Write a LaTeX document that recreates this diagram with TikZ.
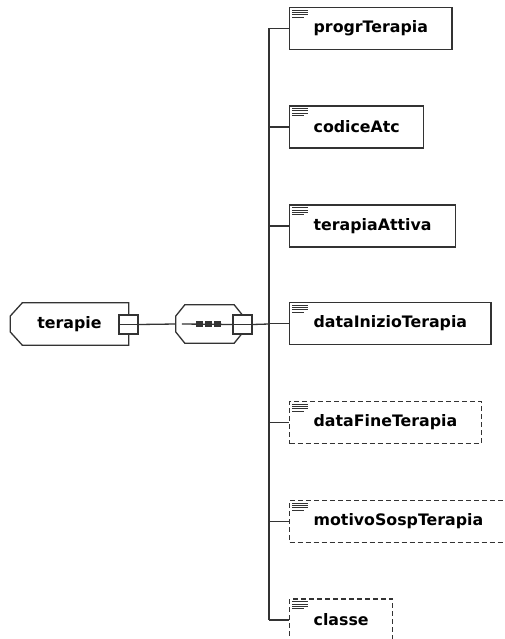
\documentclass[tikz,border=0pt]{standalone}
\usepackage{fontspec}
\setmainfont{DejaVu Sans}
\usepackage{xcolor}
\definecolor{bordo}{HTML}{333333}
\tikzset{
	linea/.style={draw=bordo, line width=1.3pt},
	elemento/.style={linea, fill=white, anchor=west, minimum height=42pt, inner xsep=24pt, font=\fontsize{15.8}{18}\selectfont\bfseries},
	opzionale/.style={elemento, dash pattern=on 5pt off 3pt},
	meno/.style={linea, fill=white, minimum size=19pt, inner sep=0pt}
}

\begin{document}
\begin{tikzpicture}[x=1pt,y=-1pt]
		\useasboundingbox (0,0) rectangle (504,639);
		\begin{scope}
			%elemento radice
			\node[minimum width=118pt, minimum height=42pt, inner sep=0pt, font=\fontsize{15.8}{18}\selectfont\bfseries] (terapie) at (69.5,324) {terapie};
			\draw[linea] ([xshift=12pt]terapie.north west) -- (terapie.north east) -- (terapie.south east) -- ([xshift=12pt]terapie.south west) -- ([yshift=-8pt]terapie.west) -- ([yshift=8pt]terapie.west) -- cycle;
			\node[meno] (terapiemeno) at (128.5,324.5) {};
			\draw[linea] ([xshift=2pt]terapiemeno.west) -- ([xshift=-2pt]terapiemeno.east);
			%sequenza
			\node[minimum width=67pt, minimum height=38pt, inner sep=0pt] (seq) at (209.5,324) {};
			\draw[linea, fill=white] ([xshift=9pt]seq.north west) -- ([xshift=-9pt]seq.north east) -- ([yshift=8pt]seq.east) -- ([yshift=-8pt]seq.east) -- ([xshift=-9pt]seq.south east) -- ([xshift=9pt]seq.south west) -- ([yshift=-8pt]seq.west) -- ([yshift=8pt]seq.west) -- cycle;
			\node[meno] (seqmeno) at (242.5,324.5) {};
			\draw[linea] ([xshift=2pt]seqmeno.west) -- ([xshift=-2pt]seqmeno.east);
			\coordinate (seqpunti) at (208.5,324);
			\draw[linea] ([xshift=6pt]seq.west) -- (seqmeno.west);
			\foreach \dx in {-9,0,9}
				\fill[bordo] ([xshift=\dx pt]seqpunti) +(-3.3,-3.3) rectangle +(3.3,3.3);
			%collegamenti
			\draw[linea] (terapiemeno.east) -- (seq.west);
			\coordinate (tronco) at (269,324);
			\draw[linea] (seqmeno.east) -- (tronco);
			%figli
			\node[elemento] (progr) at (289,28.5) {progrTerapia};
			\node[elemento] (codice) at (289,127) {codiceAtc};
			\node[elemento] (attiva) at (289,226) {terapiaAttiva};
			\node[elemento] (inizio) at (289,323.5) {dataInizioTerapia};
			\node[opzionale] (fine) at (289,422.5) {dataFineTerapia};
			\node[opzionale] (motivo) at (289,521.5) {motivoSospTerapia};
			\node[opzionale] (classe) at (289,620) {classe};
			%tronco verticale
			\draw[linea] (tronco |- progr.west) -- (tronco |- classe.west);
			\foreach \figlio in {progr,codice,attiva,inizio,fine,motivo,classe}{
				\draw[linea] (tronco |- \figlio.west) -- (\figlio.west);
				%icona a righe
				\draw[bordo, line width=0.9pt] ([xshift=3pt,yshift=-3.3pt]\figlio.north west) -- ++(16,0)
					([xshift=3pt,yshift=-5.6pt]\figlio.north west) -- ++(16,0)
					([xshift=3pt,yshift=-7.9pt]\figlio.north west) -- ++(16,0)
					([xshift=3pt,yshift=-10.2pt]\figlio.north west) -- ++(12,0);
			}
		\end{scope}
	\end{tikzpicture}
\end{document}
